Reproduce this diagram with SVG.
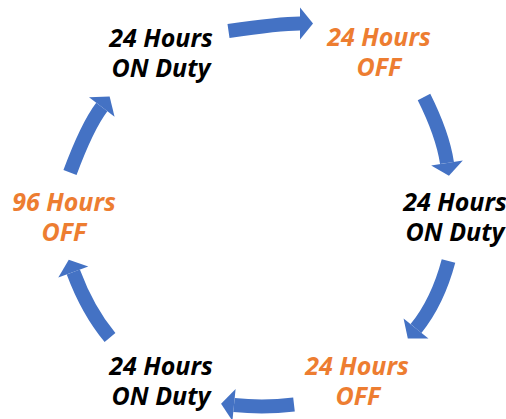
<svg xmlns="http://www.w3.org/2000/svg" width="506" height="419" viewBox="0 0 506 419">
  <style>
    .lbl { font-family: "Open Sans", "Noto Sans", "DejaVu Sans", sans-serif; font-weight: bold; font-style: italic; font-size: 25px; text-anchor: middle; }
    .on { fill: #000000; }
    .off { fill: #ED7D31; }
    .arc { fill: none; stroke: #4472C4; stroke-width: 14; stroke-linecap: butt; marker-end: url(#head); }
  </style>
  <defs>
    <marker id="head" markerUnits="userSpaceOnUse" viewBox="0 -16 13 32" refX="0" refY="0" markerWidth="13" markerHeight="32" orient="auto" overflow="visible">
      <path d="M0,-16 L13,0 L0,16 Z" fill="#4472C4"/>
    </marker>
  </defs>
  <rect width="506" height="419" fill="#ffffff"/>
  <g id="connectors">
    <path class="arc" d="M228.5,31 Q280,23.5 300,23.5"/>
    <path class="arc" d="M424,97 Q442.7,134.4 447,163"/>
    <path class="arc" d="M448.5,261 Q437.6,301.8 416,328.5"/>
    <path class="arc" d="M294,404.5 Q264,408 234,405"/>
    <path class="arc" d="M110,337.5 Q87.7,310.7 73.3,272"/>
    <path class="arc" d="M70,172.5 Q87.1,126.5 101.8,107"/>
  </g>
  <g id="node1">
    <text class="lbl on" x="161" y="46.7">24 Hours</text>
    <text class="lbl on" x="161" y="76.7">ON Duty</text>
  </g>
  <g id="node2">
    <text class="lbl off" x="379" y="46">24 Hours</text>
    <text class="lbl off" x="379" y="76">OFF</text>
  </g>
  <g id="node3">
    <text class="lbl on" x="455" y="211">24 Hours</text>
    <text class="lbl on" x="455" y="240.7">ON Duty</text>
  </g>
  <g id="node4">
    <text class="lbl off" x="357" y="375">24 Hours</text>
    <text class="lbl off" x="358" y="405">OFF</text>
  </g>
  <g id="node5">
    <text class="lbl on" x="161" y="375">24 Hours</text>
    <text class="lbl on" x="161" y="405">ON Duty</text>
  </g>
  <g id="node6">
    <text class="lbl off" x="64" y="211">96 Hours</text>
    <text class="lbl off" x="64" y="240.7">OFF</text>
  </g>
</svg>
